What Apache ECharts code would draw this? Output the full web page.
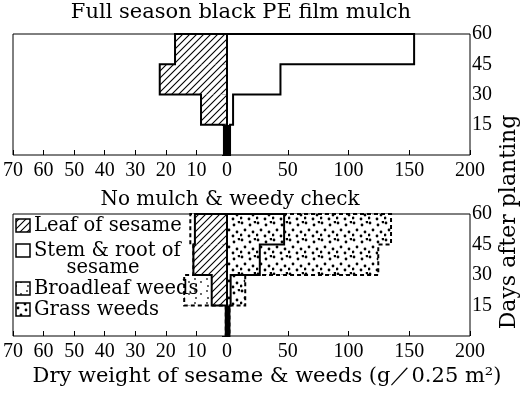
<!DOCTYPE html>
<html><head><meta charset="utf-8">
<script src="https://cdn.jsdelivr.net/npm/echarts@6/dist/echarts.min.js"></script>
<style>html,body{margin:0;padding:0;background:#fff}#c{width:521px;height:402px}</style>
</head><body><div id="c"></div>
<script>
// ---- data ----
const dayBounds = [0, 15, 30, 45, 60];
const dayTicks = [15, 30, 45, 60];
const leftTickLabels = [70, 60, 50, 40, 30, 20, 10, 0];
const rightTickLabels = [50, 100, 150, 200];
// Full season black PE film mulch (g / 0.25 m2), intervals 0-15,15-30,30-45,45-60 days
const mulchLeaf = [1, 8.5, 22, 17];
const mulchStemRoot = [2.5, 5, 44, 154];
// No mulch & weedy check
const checkLeaf = [0.4, 5, 11, 10.5];
const checkBroadleaf = [0, 9, 0, 1.5];
const checkStemRoot = [2, 3, 27, 47];
const checkGrass = [0, 12, 97.5, 88];
const legendNames = ['Leaf of sesame', 'Stem & root of', 'sesame', 'Broadleaf weeds', 'Grass weeds'];

// ---- patterns ----
function makeCanvas(w, h, draw) {
  const c = document.createElement('canvas'); c.width = w; c.height = h;
  const ctx = c.getContext('2d'); ctx.fillStyle = '#fff'; ctx.fillRect(0, 0, w, h); draw(ctx); return c;
}
const hatchCanvas = makeCanvas(7, 7, ctx => {
  ctx.strokeStyle = '#000'; ctx.lineWidth = 1.1; ctx.beginPath();
  ctx.moveTo(-1, 8); ctx.lineTo(8, -1); ctx.moveTo(-1, 1); ctx.lineTo(1, -1); ctx.moveTo(6, 8); ctx.lineTo(8, 6); ctx.stroke();
});
const dotPts = [[2,2],[10,4],[5,9],[13,11],[1,14],[9,15],[15,1]];
const denseCanvas = makeCanvas(16, 17, ctx => {
  ctx.fillStyle = '#000';
  dotPts.forEach(p => { ctx.beginPath(); ctx.arc(p[0], p[1], 1.4, 0, Math.PI * 2); ctx.fill(); });
});
const sparseCanvas = makeCanvas(12, 12, ctx => {
  ctx.fillStyle = '#222';
  [[3,3],[9,6],[4,10]].forEach(p => { ctx.beginPath(); ctx.arc(p[0], p[1], 0.9, 0, Math.PI * 2); ctx.fill(); });
});
const hatch = { image: hatchCanvas, repeat: 'repeat' };
const dense = { image: denseCanvas, repeat: 'repeat' };
const sparse = { image: sparseCanvas, repeat: 'repeat' };

// ---- series builders ----
function layer(g, base, vals, fill) {
  return {
    type: 'custom', xAxisIndex: g, yAxisIndex: g, silent: true, z: 2,
    data: vals.map((v, i) => [i, 0]),
    renderItem: (params, api) => {
      const i = params.dataIndex;
      const b = base ? base[i] : 0, v = vals[i];
      if (!(v > 0)) return null;
      const p0 = api.coord([b, dayBounds[i]]), p1 = api.coord([b + v, dayBounds[i + 1]]);
      return { type: 'rect',
        shape: { x: Math.min(p0[0], p1[0]), y: Math.min(p0[1], p1[1]), width: Math.abs(p1[0] - p0[0]), height: Math.abs(p1[1] - p0[1]) },
        style: { fill: i === 0 ? '#000' : fill, stroke: null } };
    }
  };
}
function outline(g, vals, dashed) {
  return {
    type: 'custom', xAxisIndex: g, yAxisIndex: g, silent: true, z: 3,
    data: [[0, 0]],
    renderItem: (params, api) => {
      const pts = [[0, 60]];
      for (let i = 3; i >= 0; i--) { pts.push([vals[i], dayBounds[i + 1]]); pts.push([vals[i], dayBounds[i]]); }
      if (!dashed) { pts.push([0, 0]); pts.push([0, 60]); }
      return { type: 'polyline', shape: { points: pts.map(p => api.coord(p)) },
        style: { fill: null, stroke: '#000', lineWidth: 2, lineDash: dashed ? [4, 3] : null } };
    }
  };
}
const checkLeafTotal = checkLeaf.map((v, i) => v + checkBroadleaf[i]);
const checkRightTotal = checkStemRoot.map((v, i) => v + checkGrass[i]);

// ---- axes ----
const tickFont = { fontFamily: 'Liberation Serif', fontSize: 20, color: '#000' };
function xLeft(g) {
  return { gridIndex: g, type: 'value', min: 0, max: 70, interval: 10, inverse: true,
    axisLine: { show: false }, splitLine: { show: false },
    axisTick: { show: true, inside: true, length: 5, lineStyle: { color: '#000' } },
    axisLabel: Object.assign({ margin: 6, formatter: v => leftTickLabels.includes(v) ? String(v) : '' }, tickFont) };
}
function xRight(g) {
  return { gridIndex: g, type: 'value', min: 0, max: 200, interval: 50,
    axisLine: { show: false }, splitLine: { show: false },
    axisTick: { show: true, inside: true, length: 5, lineStyle: { color: '#000' } },
    axisLabel: Object.assign({ margin: 6, formatter: v => rightTickLabels.includes(v) ? String(v) : '' }, tickFont) };
}
function yHidden(g) {
  return { gridIndex: g, type: 'value', min: 0, max: 60, interval: 15, show: false };
}
function yRight(g) {
  return { gridIndex: g, type: 'value', min: 0, max: 60, interval: 15, position: 'right',
    axisLine: { show: false }, splitLine: { show: false },
    axisTick: { show: true, inside: true, length: 5, lineStyle: { color: '#000' } },
    axisLabel: Object.assign({ margin: 2, formatter: v => dayTicks.includes(v) ? String(v) : '' }, tickFont) };
}
const gridStyle = { show: true, borderColor: '#000', borderWidth: 1, backgroundColor: 'transparent' };
const serif = 'DejaVu Serif';
const f = s => s + 'px "' + serif + '"';

const option = {
  animation: false,
  backgroundColor: '#fff',
  grid: [
    Object.assign({ left: 12, top: 34, width: 215, height: 121 }, gridStyle),
    Object.assign({ left: 227, top: 34, width: 243, height: 121 }, gridStyle),
    Object.assign({ left: 12, top: 214, width: 215, height: 122 }, gridStyle),
    Object.assign({ left: 227, top: 214, width: 243, height: 122 }, gridStyle)
  ],
  xAxis: [xLeft(0), xRight(1), xLeft(2), xRight(3)],
  yAxis: [yHidden(0), yRight(1), yHidden(2), yRight(3)],
  series: [
    layer(0, null, mulchLeaf, hatch), outline(0, mulchLeaf, false),
    layer(1, null, mulchStemRoot, '#fff'), outline(1, mulchStemRoot, false),
    layer(2, null, checkLeaf, hatch), layer(2, checkLeaf, checkBroadleaf, sparse),
    outline(2, checkLeafTotal, true), outline(2, checkLeaf, false),
    layer(3, null, checkStemRoot, dense), layer(3, checkStemRoot, checkGrass, dense),
    outline(3, checkRightTotal, true), outline(3, checkStemRoot, false)
  ],
  graphic: { elements: [
    { type: 'text', z: 100, x: 241, y: 13, style: { text: 'Full season black PE film mulch', font: f(21), fill: '#000', textAlign: 'center', textVerticalAlign: 'middle' } },
    { type: 'text', z: 100, x: 230, y: 200, style: { text: 'No mulch & weedy check', font: f(20), fill: '#000', textAlign: 'center', textVerticalAlign: 'middle' } },
    { type: 'text', z: 100, x: 267, y: 377, style: { text: 'Dry weight of sesame & weeds (g／0.25 m²)', font: f(21), fill: '#000', textAlign: 'center', textVerticalAlign: 'middle' } },
    { type: 'text', z: 100, x: 509, y: 222, rotation: Math.PI / 2, style: { text: 'Days after planting', font: f(22), fill: '#000', textAlign: 'center', textVerticalAlign: 'middle' } },
    // legend
    { type: 'rect', z: 100, shape: { x: 16, y: 219, width: 14, height: 13 }, style: { fill: hatch, stroke: '#000', lineWidth: 1.5 } },
    { type: 'text', z: 100, x: 34, y: 226, style: { text: legendNames[0], font: f(19.5), fill: '#000', textVerticalAlign: 'middle' } },
    { type: 'rect', z: 100, shape: { x: 16, y: 244, width: 14, height: 13 }, style: { fill: '#fff', stroke: '#000', lineWidth: 1.5 } },
    { type: 'text', z: 100, x: 34, y: 251, style: { text: legendNames[1], font: f(19.5), fill: '#000', textVerticalAlign: 'middle' } },
    { type: 'text', z: 100, x: 103, y: 268, style: { text: legendNames[2], font: f(19.5), fill: '#000', textAlign: 'center', textVerticalAlign: 'middle' } },
    { type: 'rect', z: 100, shape: { x: 16, y: 282, width: 14, height: 13 }, style: { fill: sparse, stroke: '#000', lineWidth: 1.5 } },
    { type: 'text', z: 100, x: 34, y: 289, style: { text: legendNames[3], font: f(19.5), fill: '#000', textVerticalAlign: 'middle' } },
    { type: 'rect', z: 100, shape: { x: 16, y: 303, width: 14, height: 13 }, style: { fill: dense, stroke: '#000', lineWidth: 1.5 } },
    { type: 'text', z: 100, x: 34, y: 310, style: { text: legendNames[4], font: f(19.5), fill: '#000', textVerticalAlign: 'middle' } }
  ] }
};
const chart = echarts.init(document.getElementById('c'), null, { renderer: 'canvas' });
chart.setOption(option);
</script>
</body></html>
